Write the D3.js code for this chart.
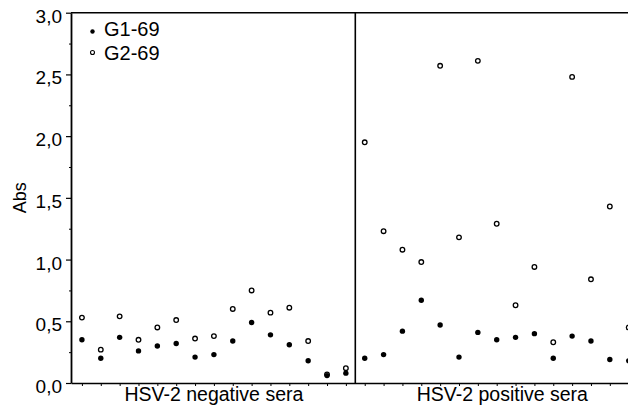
<!DOCTYPE html>
<html><head><meta charset="utf-8">
<script src="https://cdn.jsdelivr.net/npm/d3@7"></script>
<style>
html,body{margin:0;padding:0;background:#fff;}
text{font-family:"Liberation Sans",Arial,Helvetica,sans-serif;fill:#000;}
</style></head>
<body>
<svg id="chart" width="628" height="406"></svg>
<script>
// ---- data ----
const groups = ["HSV-2 negative sera", "HSV-2 positive sera"];
const seriesNames = ["G1-69", "G2-69"];
const negG1 = [0.35, 0.20, 0.37, 0.26, 0.30, 0.32, 0.21, 0.23, 0.34, 0.49, 0.39, 0.31, 0.18, 0.06, 0.08];
const negG2 = [0.53, 0.27, 0.54, 0.35, 0.45, 0.51, 0.36, 0.38, 0.60, 0.75, 0.57, 0.61, 0.34, 0.07, 0.12];
const posG1 = [0.20, 0.23, 0.42, 0.67, 0.47, 0.21, 0.41, 0.35, 0.37, 0.40, 0.20, 0.38, 0.34, 0.19, 0.18];
const posG2 = [1.95, 1.23, 1.08, 0.98, 2.57, 1.18, 2.61, 1.29, 0.63, 0.94, 0.33, 2.48, 0.84, 1.43, 0.45];
const yTicks = [0, 0.5, 1.0, 1.5, 2.0, 2.5, 3.0];
const yMinor = [0.25, 0.75, 1.25, 1.75, 2.25, 2.75];
const yLabel = "Abs";

// ---- layout ----
const svg = d3.select("#chart");
const x = d3.scaleLinear().domain([-0.58, 29.5]).range([71, 638.1]);
const y = d3.scaleLinear().domain([0, 3]).range([383, 12.7]);

const g1 = negG1.concat(posG1);
const g2 = negG2.concat(posG2);
const n = g1.length;
const idx = d3.range(n);

// y axis
const yAxis = d3.axisLeft(y).tickValues(yTicks).tickSize(5).tickSizeOuter(0)
  .tickFormat(d => d3.format(".1f")(d).replace(".", ","));
const ya = svg.append("g").attr("transform", "translate(71,0)").call(yAxis);
ya.select(".domain").attr("stroke-width", 1.8);
ya.selectAll(".tick line").attr("stroke-width", 1.2);
ya.selectAll(".tick text").attr("font-size", 19).attr("x", -9).attr("dy", "0.5em")
  .style("font-family", "Liberation Sans, Arial, sans-serif");
const yMin = d3.axisLeft(y).tickValues(yMinor).tickSize(2).tickFormat("");
const ym = svg.append("g").attr("transform", "translate(71,0)").call(yMin);
ym.select(".domain").remove();

// x axis (ticks at each serum)
const xAxis = d3.axisBottom(x).tickValues(idx).tickSize(3).tickSizeOuter(0).tickFormat("");
const xa = svg.append("g").attr("transform", "translate(0,383)").call(xAxis);
xa.select(".domain").attr("stroke-width", 1.5);

// frame top and divider
svg.append("line").attr("x1", 71).attr("x2", 628).attr("y1", y(3)).attr("y2", y(3))
  .attr("stroke", "#000").attr("stroke-width", 1.6);
svg.append("line").attr("x1", x(14.5)).attr("x2", x(14.5)).attr("y1", y(3)).attr("y2", y(0))
  .attr("stroke", "#000").attr("stroke-width", 1.6);

// group labels
const centers = [7, 22.3];
svg.selectAll(".grp").data(groups).enter().append("text")
  .attr("class", "grp").attr("x", (d, i) => x(centers[i])).attr("y", 401)
  .attr("text-anchor", "middle").attr("font-size", 19.5).text(d => d);

// y label
svg.append("text").attr("transform", "translate(26," + y(1.5) + ") rotate(-90)")
  .attr("text-anchor", "middle").attr("font-size", 18).text(yLabel);

// points
svg.append("g").selectAll("circle").data(idx).enter().append("circle")
  .attr("cx", i => x(i)).attr("cy", i => y(g2[i])).attr("r", 2.3)
  .attr("fill", "#fff").attr("stroke", "#000").attr("stroke-width", 1.3);
svg.append("g").selectAll("circle").data(idx).enter().append("circle")
  .attr("cx", i => x(i)).attr("cy", i => y(g1[i])).attr("r", 2.7)
  .attr("fill", "#000");

// legend
const leg = svg.append("g");
leg.append("circle").attr("cx", 92.5).attr("cy", 31.5).attr("r", 2.2).attr("fill", "#000");
leg.append("circle").attr("cx", 92.5).attr("cy", 52.5).attr("r", 2).attr("fill", "#fff")
  .attr("stroke", "#000").attr("stroke-width", 1.1);
leg.selectAll(".lt").data(seriesNames).enter().append("text").attr("class", "lt")
  .attr("x", 104).attr("y", (d, i) => 36 + i * 24).attr("font-size", 20).text(d => d);
</script>
</body></html>
